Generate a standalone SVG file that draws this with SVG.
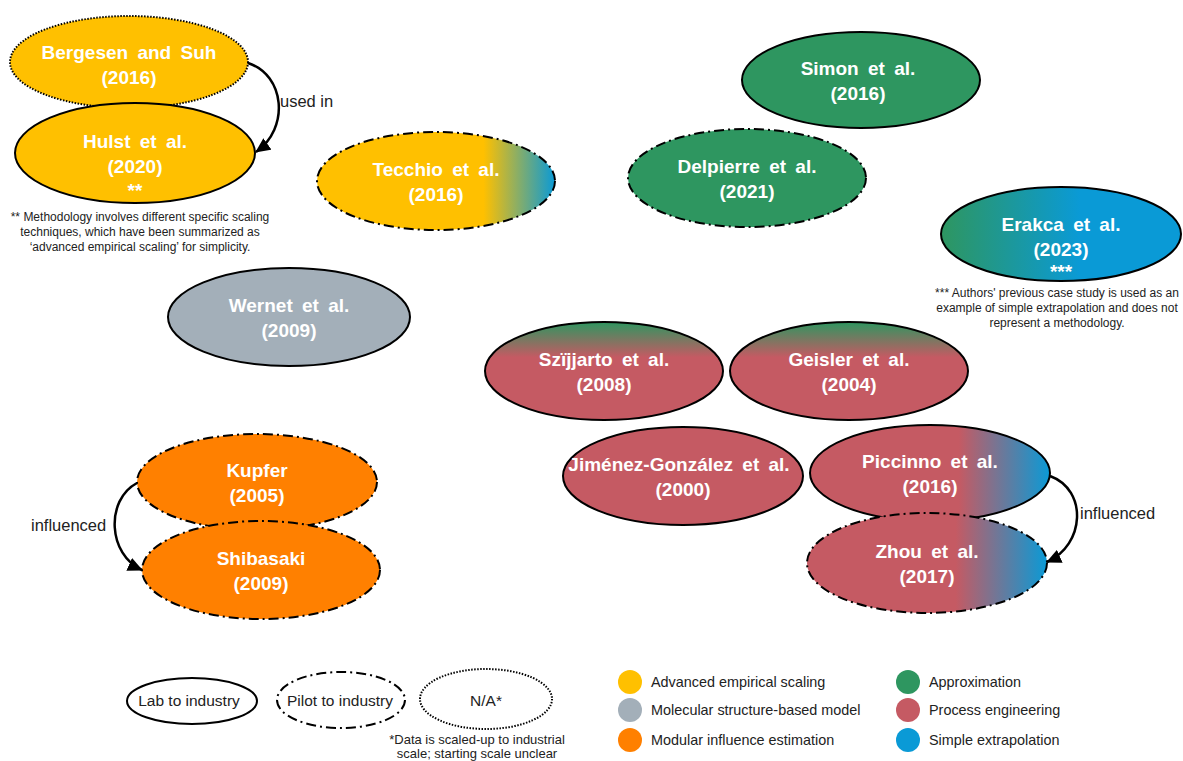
<svg xmlns="http://www.w3.org/2000/svg" width="1183" height="761" viewBox="0 0 1183 761">
<style>
  .n { stroke:#000; stroke-width:2; }
  .lab { }
  .pil { stroke-dasharray:10 4 2 4; }
  .na { stroke-dasharray:1.5 1.5; }
  .t { font-family:"Liberation Sans", Arial, sans-serif; font-weight:bold; font-size:19px; fill:#fff; text-anchor:middle; word-spacing:4px; }
  .fn { font-family:"Liberation Sans", Arial, sans-serif; font-size:12px; fill:#222; text-anchor:middle; }
  .el { font-family:"Liberation Sans", Arial, sans-serif; font-size:16.5px; fill:#222; }
  .lg { font-family:"Liberation Sans", Arial, sans-serif; font-size:14.4px; fill:#222; }
  .ls { font-family:"Liberation Sans", Arial, sans-serif; font-size:15.5px; fill:#222; text-anchor:middle; }
  .conn { fill:none; stroke:#000; stroke-width:2.5; marker-end:url(#ah); }
</style>
<defs>
  <marker id="ah" markerUnits="userSpaceOnUse" markerWidth="16" markerHeight="14" refX="14" refY="7" orient="auto">
    <path d="M0,0 L15,7 L0,14 Z" fill="#000"/>
  </marker>
  <linearGradient id="gTec" gradientUnits="userSpaceOnUse" x1="317" y1="0" x2="555" y2="0">
    <stop offset="0.7" stop-color="#FFC000"/>
    <stop offset="1" stop-color="#0A9AD6"/>
  </linearGradient>
  <linearGradient id="gEra" x1="0" y1="0" x2="1" y2="0">
    <stop offset="0" stop-color="#2E9660"/>
    <stop offset="0.58" stop-color="#0A9AD6"/>
  </linearGradient>
  <linearGradient id="gGR" x1="0" y1="0" x2="0" y2="1">
    <stop offset="0" stop-color="#2E9660"/>
    <stop offset="0.36" stop-color="#C55A63"/>
  </linearGradient>
  <linearGradient id="gRB" x1="0" y1="0" x2="1" y2="0">
    <stop offset="0.62" stop-color="#C55A63"/>
    <stop offset="1" stop-color="#0A9AD6"/>
  </linearGradient>
</defs>
<rect width="1183" height="761" fill="#fff"/>

<g id="bergesen">
  <ellipse class="n na" cx="129" cy="62" rx="119" ry="46" fill="#FFC000"/>
  <text class="t" x="129" y="59">Bergesen and Suh</text>
  <text class="t" x="129" y="84">(2016)</text>
</g>
<g id="hulst">
  <ellipse class="n lab" cx="135" cy="153" rx="120" ry="50" fill="#FFC000"/>
  <text class="t" x="135" y="148">Hulst et al.</text>
  <text class="t" x="135" y="173">(2020)</text>
  <text class="t" x="135" y="197">**</text>
</g>
<g id="hulst-note">
  <text class="fn" x="140" y="221">** Methodology involves different specific scaling</text>
  <text class="fn" x="140" y="236">techniques, which have been summarized  as</text>
  <text class="fn" x="140" y="251">‘advanced empirical scaling’ for simplicity.</text>
</g>
<g id="tecchio">
  <ellipse class="n pil" cx="436" cy="181" rx="119" ry="49" fill="url(#gTec)"/>
  <text class="t" x="436" y="176">Tecchio et al.</text>
  <text class="t" x="436" y="201">(2016)</text>
</g>
<g id="simon">
  <ellipse class="n lab" cx="861" cy="80" rx="119" ry="48" fill="#2E9660"/>
  <text class="t" x="858" y="75">Simon et al.</text>
  <text class="t" x="858" y="100">(2016)</text>
</g>
<g id="delpierre">
  <ellipse class="n pil" cx="747" cy="178" rx="119" ry="49" fill="#2E9660"/>
  <text class="t" x="747" y="173">Delpierre et al.</text>
  <text class="t" x="747" y="198">(2021)</text>
</g>
<g id="erakca">
  <ellipse class="n lab" cx="1061" cy="234" rx="120" ry="47" fill="url(#gEra)"/>
  <text class="t" x="1061" y="231">Erakca et al.</text>
  <text class="t" x="1061" y="256">(2023)</text>
  <text class="t" x="1061" y="278">***</text>
</g>
<g id="erakca-note">
  <text class="fn" x="1057" y="297">*** Authors' previous case study is used as an</text>
  <text class="fn" x="1057" y="312">example of simple extrapolation and does not</text>
  <text class="fn" x="1057" y="327">represent a methodology.</text>
</g>
<g id="wernet">
  <ellipse class="n lab" cx="289" cy="317" rx="121" ry="49" fill="#A3AFB9"/>
  <text class="t" x="289" y="312">Wernet et al.</text>
  <text class="t" x="289" y="337">(2009)</text>
</g>
<g id="szijjarto">
  <ellipse class="n lab" cx="604" cy="371" rx="119" ry="49" fill="url(#gGR)"/>
  <text class="t" x="604" y="366">Szïjjarto et al.</text>
  <text class="t" x="604" y="391">(2008)</text>
</g>
<g id="geisler">
  <ellipse class="n lab" cx="849" cy="371" rx="119" ry="49" fill="url(#gGR)"/>
  <text class="t" x="849" y="366">Geisler et al.</text>
  <text class="t" x="849" y="391">(2004)</text>
</g>
<g id="jimenez">
  <ellipse class="n lab" cx="683" cy="476" rx="120" ry="49" fill="#C55A63"/>
  <text class="t" x="679" y="471">Jiménez-González et al.</text>
  <text class="t" x="683" y="496">(2000)</text>
</g>
<g id="piccinno">
  <ellipse class="n lab" cx="930" cy="473" rx="120" ry="48" fill="url(#gRB)"/>
  <text class="t" x="930" y="468">Piccinno et al.</text>
  <text class="t" x="930" y="493">(2016)</text>
</g>
<g id="zhou">
  <ellipse class="n pil" cx="927" cy="563" rx="120" ry="50" fill="url(#gRB)"/>
  <text class="t" x="927" y="558">Zhou et al.</text>
  <text class="t" x="927" y="583">(2017)</text>
</g>
<g id="kupfer">
  <ellipse class="n pil" cx="257" cy="482" rx="120" ry="48" fill="#FF8000"/>
  <text class="t" x="257" y="477">Kupfer</text>
  <text class="t" x="257" y="502">(2005)</text>
</g>
<g id="shibasaki">
  <ellipse class="n pil" cx="261" cy="570" rx="119" ry="49" fill="#FF8000"/>
  <text class="t" x="261" y="565">Shibasaki</text>
  <text class="t" x="261" y="590">(2009)</text>
</g>

<g id="connectors">
  <path class="conn" d="M248,63 C285,75 290,128 256,152"/>
  <path class="conn" d="M1050,476 C1088,490 1085,545 1047,562"/>
  <path class="conn" d="M137,483 C105,500 108,555 142,570"/>
  <text class="el" x="280" y="107">used in</text>
  <text class="el" x="1080" y="519">influenced</text>
  <text class="el" x="31" y="531">influenced</text>
</g>

<g id="legend-scale">
  <ellipse class="n lab" cx="192" cy="701" rx="65" ry="23" fill="none"/>
  <text class="ls" x="189" y="706">Lab to industry</text>
  <ellipse class="n pil" cx="341" cy="700" rx="64" ry="28" fill="none"/>
  <text class="ls" x="340" y="706">Pilot to industry</text>
  <ellipse class="n na" cx="486" cy="699" rx="66" ry="30" fill="none"/>
  <text class="ls" x="486" y="706">N/A*</text>
  <text class="fn" x="477" y="744" style="font-size:13px">*Data is scaled-up to industrial</text>
  <text class="fn" x="477" y="758" style="font-size:13px">scale; starting scale unclear</text>
</g>
<g id="legend-colour">
  <circle cx="630" cy="682" r="12" fill="#FFC000"/>
  <text class="lg" x="651" y="687">Advanced empirical scaling</text>
  <circle cx="630" cy="710" r="12" fill="#A3AFB9"/>
  <text class="lg" x="651" y="715">Molecular structure-based model</text>
  <circle cx="630" cy="740" r="12" fill="#FF8000"/>
  <text class="lg" x="651" y="745">Modular influence estimation</text>
  <circle cx="908" cy="682" r="12" fill="#2E9660"/>
  <text class="lg" x="929" y="687">Approximation</text>
  <circle cx="908" cy="710" r="12" fill="#C55A63"/>
  <text class="lg" x="929" y="715">Process engineering</text>
  <circle cx="908" cy="740" r="12" fill="#0A9AD6"/>
  <text class="lg" x="929" y="745">Simple extrapolation</text>
</g>
</svg>
